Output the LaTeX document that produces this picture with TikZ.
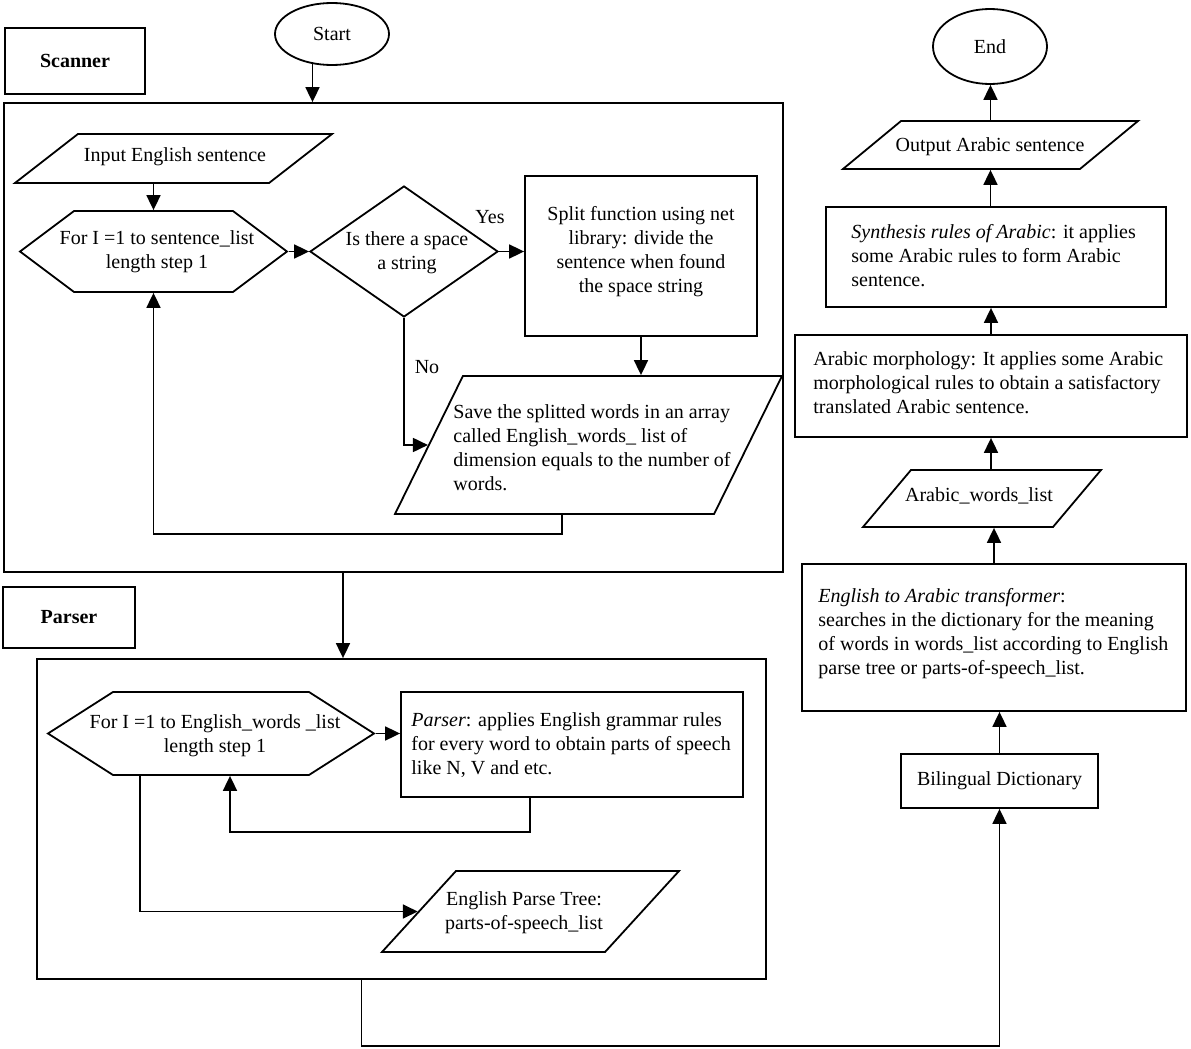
\documentclass[tikz,border=0pt]{standalone}
\usepackage{fontspec}
\setmainfont{Liberation Serif}
\usetikzlibrary{positioning,shapes.geometric,shapes.symbols,arrows.meta}
\tikzset{basic/.style={draw,line width=0.9pt,inner sep=0pt}}
\tikzset{terminal/.style={basic,ellipse}}
\tikzset{process/.style={basic,rectangle}}
\tikzset{io/.style={basic,trapezium,trapezium stretches body,inner xsep=0pt}}
\tikzset{forloop/.style={basic,signal,signal to=west and east}}
\tikzset{decision/.style={basic,diamond}}
\tikzset{txt/.style={inner sep=0pt,align=center}}
\tikzset{flow/.style={draw,line width=0.9pt,-{Triangle[length=7.5pt,width=7pt]}}}

\begin{document}
\begin{tikzpicture}[x=0.5pt,y=-0.5pt]
    \useasboundingbox (0,0) rectangle (1191,1049);
        % scanner part
        \node[terminal,minimum width=57pt,minimum height=31pt] (start) at (332,34) {Start};
        \node[process,minimum width=70pt,minimum height=33pt,font=\bfseries] (scannerlbl) at (75,61) {Scanner};
        \node[process,minimum width=389.5pt,minimum height=234.5pt] (scanner) at (393.5,337.5) {};
            \path[flow] (start.-123) -- (start.-123 |- scanner.north);
        \node[io,trapezium left angle=37.9,trapezium right angle=142.1,minimum width=158.5pt,inner ysep=12.25pt] (input) at (173.5,158.5) {};
        \node[txt] (inputtxt) at (175,157) {Input English sentence};
        \node[forloop,signal pointer angle=73.7,minimum width=133.5pt,minimum height=40.5pt] (forscan) at (153.5,251.5) {};
        \node[txt] (forscantxt) at (157,252) {For I =1 to sentence\_list\\length step 1};
            \path[flow] (input.south -| forscan.north) -- (forscan.north);
        \node[decision,minimum width=94pt,minimum height=65.5pt] (space) at (404,251.5) {};
        \node[txt] (spacetxt) at (407,253) {Is there a space\\a string};
            \path[flow] (forscan.east) -- (space.west);
        \node[process,minimum width=116pt,minimum height=80pt] (split) at (641,256) {};
        \node[txt] (splittxt) at (641,252) {Split function using net\\library: divide the\\sentence when found\\the space string};
            \path[flow] (space.east) -- (space.east -| split.west);
        \node[txt] (yes) at (490,217) {Yes};
        \node[io,trapezium left angle=63.8,trapezium right angle=116.2,minimum width=193.5pt,inner ysep=34.5pt] (save) at (588.5,445) {};
        \node[txt,anchor=west,align=left] (savetxt) at (453,448) {Save the splitted words in an array\\called English\_words\_ list of\\dimension equals to the number of\\words.};
            \path[flow] (split.south) -- (split.south |- save.north);
            \path[flow] (space.south) |- (save);
        \node[txt] (no) at (427,367) {No};
            \path[flow] ([xshift=-13.25pt]save.south) -- ++(0,19) -| (forscan.south);
        % parser part
        \node[process,minimum width=66pt,minimum height=30.5pt,font=\bfseries] (parserlbl) at (69,617.5) {Parser};
        \node[process,minimum width=364.5pt,minimum height=160pt] (parser) at (401.5,819) {};
            \path[flow] ([xshift=-25.25pt]scanner.south) -- ([xshift=-25.25pt]scanner.south |- parser.north);
        \node[forloop,signal pointer angle=65.1,minimum width=163pt,minimum height=41.5pt] (forparse) at (211,733.5) {};
        \node[txt] (forparsetxt) at (215,736) {For I =1 to English\_words \_list\\length step 1};
        \node[process,minimum width=171pt,minimum height=52.5pt] (rules) at (572,744.5) {};
        \node[txt,anchor=west,align=left] (rulestxt) at (411,745) {\textit{Parser}: applies English grammar rules\\for every word to obtain parts of speech\\like N, V and etc.};
            \path[flow] (forparse.east) -- (forparse.east -| rules.west);
            \path[flow] ([xshift=-21pt]rules.south) -- ++(0,34) -| ([xshift=9.5pt]forparse.south);
        \node[io,trapezium left angle=47.6,trapezium right angle=132.4,minimum width=148.5pt,inner ysep=20.25pt] (tree) at (530.5,911.5) {};
        \node[txt] (treetxt) at (524,913) {English Parse Tree:\\parts-of-speech\_list};
            \path[flow] ([xshift=-35.5pt]forparse.south) |- (tree);
        % arabic side
        \node[process,minimum width=98.5pt,minimum height=27pt] (dict) at (999.5,781) {Bilingual Dictionary};
            \path[flow] ([xshift=-20pt]parser.south) -- ++(0,66) -| (dict.south);
        \node[process,minimum width=192pt,minimum height=73.5pt] (trans) at (994,637.5) {};
        \node[txt,anchor=west,align=left] (transtxt) at (818,634) {\textit{English to Arabic transformer}:\\searches in the dictionary for the meaning\\of words in words\_list according to English\\parse tree or parts-of-speech\_list.};
            \path[flow] (dict.north) -- (dict.north |- trans.south);
        \node[io,trapezium left angle=49.9,trapezium right angle=130.1,minimum width=119pt,inner ysep=14.25pt] (arwords) at (982,498.5) {};
        \node[txt] (arwordstxt) at (979,496) {Arabic\_words\_list};
            \path[flow] (trans.north) -- (trans.north |- arwords.south);
        \node[process,minimum width=196pt,minimum height=51pt] (morph) at (991,386) {};
        \node[txt,anchor=west,align=left] (morphtxt) at (813,383) {Arabic morphology: It applies some Arabic\\morphological rules to obtain a satisfactory\\translated Arabic sentence.};
            \path[flow] (morph.south |- arwords.north) -- (morph.south);
        \node[process,minimum width=170pt,minimum height=50pt] (synth) at (996,257) {};
        \node[txt,anchor=west,align=left] (synthtxt) at (851,256) {\textit{Synthesis rules of Arabic}: it applies\\some Arabic rules to form Arabic\\sentence.};
            \path[flow] (morph.north) -- (morph.north |- synth.south);
        \node[io,trapezium left angle=39.6,trapezium right angle=140.4,minimum width=147.5pt,inner ysep=12pt] (output) at (990.5,145) {};
        \node[txt] (outputtxt) at (990,147) {Output Arabic sentence};
            \path[flow] (output.south |- synth.north) -- (output.south);
        \node[terminal,minimum width=57pt,minimum height=37.5pt] (end) at (990,46.5) {End};
            \path[flow] (output.north) -- (output.north |- end.south);
    \end{tikzpicture}
\end{document}
